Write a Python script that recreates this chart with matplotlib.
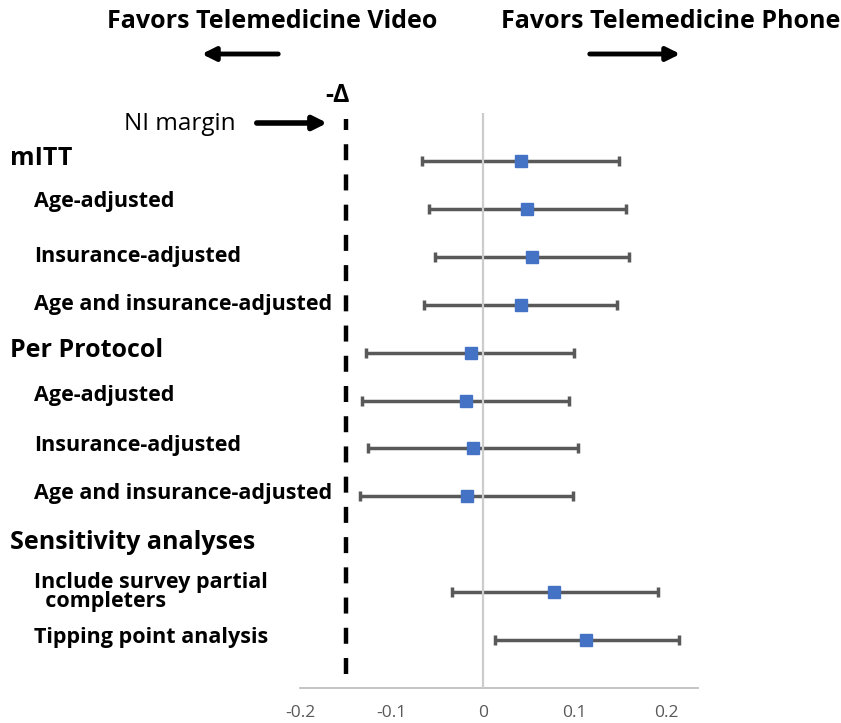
import numpy as np
import matplotlib
matplotlib.use("Agg")
import matplotlib.pyplot as plt
from matplotlib.transforms import blended_transform_factory

# rows, top to bottom (row 8 is the "Sensitivity analyses" header, no estimate)
labels = ["mITT", "Age-adjusted", "Insurance-adjusted", "Age and insurance-adjusted",
          "Per Protocol", "Age-adjusted", "Insurance-adjusted", "Age and insurance-adjusted",
          "Sensitivity analyses", "Include survey partial\n  completers", "Tipping point analysis"]
headers = [0, 4, 8]
rows = [0, 1, 2, 3, 4, 5, 6, 7, 9, 10]
est = [0.042, 0.048, 0.054, 0.042, -0.013, -0.019, -0.011, -0.018, 0.078, 0.113]
lo = [-0.067, -0.059, -0.052, -0.065, -0.128, -0.132, -0.126, -0.134, -0.034, 0.013]
hi = [0.149, 0.156, 0.160, 0.147, 0.100, 0.094, 0.104, 0.098, 0.191, 0.214]
ni_margin = -0.15
xticks = [-0.2, -0.1, 0, 0.1, 0.2]
xticklabels = ["-0.2", "-0.1", "0", "0.1", "0.2"]

plt.rcParams['font.family'] = ['Open Sans', 'DejaVu Sans']

W, H = 841, 723
fig = plt.figure(figsize=(W / 100, H / 100), dpi=100)
ax = fig.add_axes([300 / W, (H - 688) / H, 398 / W, (688 - 113) / H])

est = np.array(est)
xerr = np.vstack([est - np.array(lo), np.array(hi) - est])
ax.errorbar(est, rows, xerr=xerr, fmt='none', ecolor='#595959', elinewidth=2.5,
            capsize=3.5, capthick=2.5, zorder=2)
ax.axvline(0, color='#cccccc', lw=1.6, zorder=3)
ax.plot(est, rows, 's', color='#4472C4', markersize=9, zorder=4, linestyle='none')

ax.axvline(ni_margin, ymin=0.025, ymax=0.99, color='black', lw=3.2,
           dashes=(3.6, 3.2), clip_on=False, zorder=5)

ax.set_xlim(-0.2, 0.235)
ax.set_ylim(11, -1)
ax.set_yticks([])
ax.set_xticks(xticks)
ax.set_xticklabels(xticklabels)
ax.tick_params(axis='x', length=0, pad=12, labelsize=12.5, colors='#595959')
for s in ['top', 'left', 'right']:
    ax.spines[s].set_visible(False)
ax.spines['bottom'].set_color('#bfbfbf')
ax.spines['bottom'].set_linewidth(1.3)

# row labels: x in figure pixels, y in row units
tr = blended_transform_factory(fig.transFigure, ax.transData)
offs = [-0.06, -0.16, 0.0, 0.0, -0.05, -0.11, -0.07, -0.06, -0.04, 0.0, -0.05]
for i, lab in enumerate(labels):
    if i in headers:
        ax.text(10 / W, i + offs[i], lab, transform=tr, fontsize=18,
                fontweight='bold', va='center', ha='left')
    else:
        ax.text(34 / W, i + offs[i], lab, transform=tr, fontsize=15.5,
                fontweight='bold', va='center', ha='left', linespacing=0.85)

# header annotations
fig.text(272 / W, 1 - 22 / H, "Favors Telemedicine Video", fontsize=18,
         fontweight='bold', ha='center', va='center')
fig.text(671 / W, 1 - 22 / H, "Favors Telemedicine Phone", fontsize=18,
         fontweight='bold', ha='center', va='center')
ax.annotate("", xy=(199 / W, 1 - 54 / H), xytext=(281 / W, 1 - 54 / H),
            xycoords='figure fraction', textcoords='figure fraction',
            arrowprops=dict(arrowstyle='-|>', color='black', lw=3.5, mutation_scale=20))
ax.annotate("", xy=(683 / W, 1 - 54 / H), xytext=(587 / W, 1 - 54 / H),
            xycoords='figure fraction', textcoords='figure fraction',
            arrowprops=dict(arrowstyle='-|>', color='black', lw=3.5, mutation_scale=20))

fig.text(180 / W, 1 - 124 / H, "NI margin", fontsize=17.5, ha='center', va='center')
ax.annotate("", xy=(330 / W, 1 - 123 / H), xytext=(254 / W, 1 - 123 / H),
            xycoords='figure fraction', textcoords='figure fraction',
            arrowprops=dict(arrowstyle='-|>', color='black', lw=4, mutation_scale=20))
fig.text(337 / W, 1 - 96 / H, "-Δ", fontsize=18, fontweight='bold',
         ha='center', va='center')

fig.savefig("out.png", dpi=100, facecolor='white')
